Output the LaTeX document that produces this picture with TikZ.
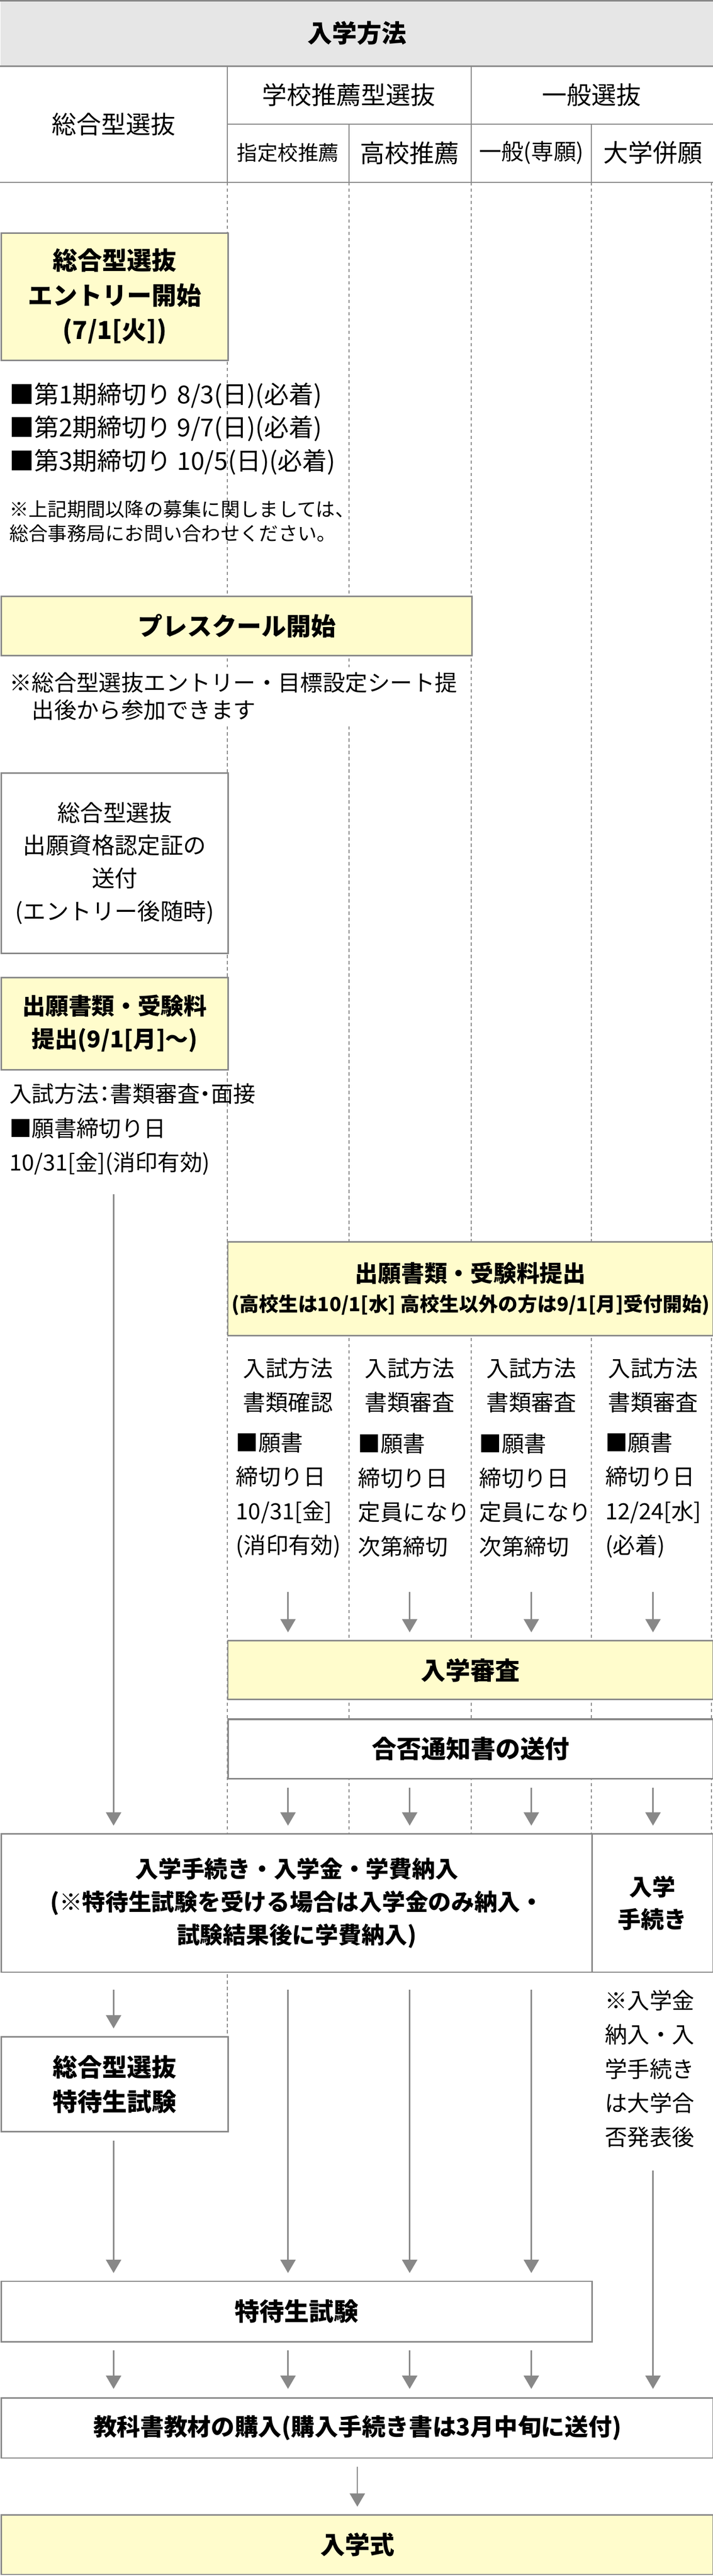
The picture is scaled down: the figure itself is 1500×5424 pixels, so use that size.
\documentclass[tikz,border=0pt]{standalone}
\usepackage{fontspec}
\setmainfont{Noto Sans CJK JP}
\usepackage{tikz}
\usetikzlibrary{arrows.meta}

\definecolor{linegray}{HTML}{888888}
\definecolor{paleyellow}{HTML}{FFFCCC}
\definecolor{headgray}{HTML}{E6E6E6}

% one layout pixel = 0.01cm
\newcommand{\fhead}{\fontsize{14.8pt}{20.5pt}\selectfont}
\newcommand{\fcell}{\fontsize{12.2pt}{15pt}\selectfont}
\newcommand{\ftitle}{\fontsize{14.8pt}{20.8pt}\selectfont\bfseries}
\newcommand{\fsub}{\fontsize{13.8pt}{19.7pt}\selectfont\bfseries}
\newcommand{\fdue}{\fontsize{14.8pt}{19.9pt}\selectfont}
\newcommand{\fbody}{\fontsize{13.7pt}{19.7pt}\selectfont}
\newcommand{\fcol}{\fontsize{13.4pt}{20.5pt}\selectfont}
\newcommand{\fhint}{\fontsize{13.4pt}{16.5pt}\selectfont}
\newcommand{\fnote}{\fontsize{11.5pt}{14.5pt}\selectfont}
% tight punctuation
\newcommand{\tdot}{\kern-0.25em・\kern-0.25em}
\newcommand{\tcolon}{\kern-0.25em：\kern-0.25em}

\begin{document}
\begin{tikzpicture}[x=0.01cm, y=-0.01cm,
  gline/.style={draw=linegray, line width=0.85pt},
  guide/.style={draw=linegray, line width=0.6pt, dash pattern=on 2pt off 1.7pt},
  stage/.style={draw=linegray, line width=0.85pt, anchor=north west, align=center, inner sep=0pt},
  hot/.style={stage, fill=paleyellow},
  plain/.style={stage, fill=white},
  memo/.style={anchor=west, align=left, inner sep=0pt},
  flow/.style={draw=linegray, line width=0.8pt, -{Triangle[length=2.8mm,width=3.2mm]},
    shorten <=0.17cm, shorten >=0.16cm}]

\useasboundingbox (0,0) rectangle (1500,5424);

% header table
\node[fill=headgray, anchor=north west, inner sep=0pt, minimum width=15cm, minimum height=1.39cm,
  font=\ftitle] (head) at (0,0) {入学方法};
\draw[gline] (0,2) -- (1500,2);
\draw[gline] (0,139) -- (1500,139);
\draw[gline] (0,384) -- (1500,384);
\draw[gline, line width=0.6pt] (478,261) -- (1500,261);
\draw[gline, line width=0.6pt] (478,139) -- (478,384) (991,139) -- (991,384)
  (734,261) -- (734,384) (1244,261) -- (1244,384);

\node[font=\fhead] (sogo) at (239,262) {総合型選抜};
\node[font=\fhead] (school) at (734,200) {学校推薦型選抜};
\node[font=\fhead] (general) at (1245,200) {一般選抜};
\node[font=\fcell] (shitei) at (606,322) {指定校推薦};
\node[font=\fhead] (koko) at (862,322) {高校推薦};
\node[font=\fcol] (senga) at (1118,322) {一般(専願)};
\node[font=\fhead] (heigan) at (1374,322) {大学併願};

% column guides
\draw[guide] (478,384) -- (478,4287);
\draw[guide] (734,384) -- (734,3860);
\draw[guide] (991,384) -- (991,3860);
\draw[guide] (1244,384) -- (1244,3860);
\draw[guide] (1497,384) -- (1497,3860);

% 総合型選抜
\node[hot, minimum width=4.765cm, minimum height=2.68cm, font=\ftitle] (entry) at (1.5,489)
  {総合型選抜\\エントリー開始\\(7/1[火])};
\node[memo, font=\fdue] (due) at (19,903)
  {■第1期締切り 8/3(日)(必着)\\■第2期締切り 9/7(日)(必着)\\■第3期締切り 10/5(日)(必着)};
\node[memo, font=\fnote] (later) at (19,1098)
  {※上記期間以降の募集に関しましては、\\総合事務局にお問い合わせください。};

\node[hot, minimum width=9.895cm, minimum height=1.25cm, font=\ftitle] (pre) at (1.5,1254) {プレスクール開始};
\node[memo, fill=white, inner xsep=0.19cm, inner ysep=0.1cm, font=\fhint] (prenote) at (0,1466)
  {※総合型選抜エントリー・目標設定シート提\\\hphantom{※}出後から参加できます};

\node[plain, minimum width=4.765cm, minimum height=3.8cm, font=\fbody] (cert) at (1.5,1626)
  {総合型選抜\\出願資格認定証の\\送付\\(エントリー後随時)};
\node[hot, minimum width=4.765cm, minimum height=1.94cm, font=\fsub] (apply) at (1.5,2057)
  {出願書類・受験料\\提出(9/1[月]〜)};
\node[memo, font=\fcol] (exam) at (19,2378)
  {入試方法\tcolon 書類審査\tdot 面接\\■願書締切り日\\10/31[金](消印有効)};

% 学校推薦型選抜・一般選抜
\node[hot, minimum width=10.205cm, minimum height=1.98cm, font=\fontsize{11.7pt}{17.6pt}\selectfont\bfseries]
  (apply2) at (478,2613)
  {{\fsub 出願書類・受験料提出}\\(高校生は10/1[水] 高校生以外の方は9/1[月]受付開始)};

\node[align=center, font=\fcol] (m1) at (606,2917) {入試方法\\書類確認};
\node[align=center, font=\fcol] (m2) at (862,2917) {入試方法\\書類審査};
\node[align=center, font=\fcol] (m3) at (1118,2917) {入試方法\\書類審査};
\node[align=center, font=\fcol] (m4) at (1374,2917) {入試方法\\書類審査};
\node[memo, font=\fcol] (d1) at (496,3148) {■願書\\締切り日\\10/31[金]\\(消印有効)};
\node[memo, font=\fcol] (d2) at (753,3148) {■願書\\締切り日\\定員になり\\次第締切};
\node[memo, font=\fcol] (d3) at (1008,3148) {■願書\\締切り日\\定員になり\\次第締切};
\node[memo, font=\fcol] (d4) at (1273,3148) {■願書\\締切り日\\12/24[水]\\(必着)};

\node[hot, minimum width=10.205cm, minimum height=1.24cm, font=\ftitle] (review) at (478,3453) {入学審査};
\node[plain, line width=1.1pt, minimum width=10.205cm, minimum height=1.25cm, font=\ftitle] (result) at (478,3618)
  {合否通知書の送付};

% 入学手続き以降
\node[plain, minimum width=12.425cm, minimum height=2.91cm, font=\fsub] (proc) at (1.5,3860)
  {入学手続き・入学金・学費納入\\(※特待生試験を受ける場合は入学金のみ納入・\\試験結果後に学費納入)};
\node[plain, minimum width=2.545cm, minimum height=2.91cm, font=\fsub] (proc2) at (1244,3860)
  {入学\\手続き};
\node[memo, font=\fcol] (paynote) at (1272,4356)
  {※入学金\\納入・入\\学手続き\\は大学合\\否発表後};

\node[plain, minimum width=4.765cm, minimum height=2cm, font=\ftitle] (tok1) at (1.5,4287)
  {総合型選抜\\特待生試験};
\node[plain, minimum width=12.425cm, minimum height=1.27cm, font=\ftitle] (tok2) at (1.5,4802) {特待生試験};
\node[plain, minimum width=14.97cm, minimum height=1.26cm, font=\fontsize{14.1pt}{17pt}\selectfont\bfseries]
  (book) at (1.5,5048) {教科書教材の購入(購入手続き書は3月中旬に送付)};
\node[hot, minimum width=14.97cm, minimum height=1.25cm, font=\ftitle] (ceremony) at (1.5,5294) {入学式};

% arrows
\coordinate (t0) at (239,2514);
\draw[flow, shorten <=0pt] (t0) -- (t0 |- proc.north);
\coordinate (r1) at (606,3352);
\coordinate (r2) at (862,3352);
\coordinate (r3) at (1118,3352);
\coordinate (r4) at (1374,3352);
\draw[flow, shorten <=0pt] (r1) -- (r1 |- review.north);
\draw[flow, shorten <=0pt] (r2) -- (r2 |- review.north);
\draw[flow, shorten <=0pt] (r3) -- (r3 |- review.north);
\draw[flow, shorten <=0pt] (r4) -- (r4 |- review.north);
\draw[flow] (shitei |- result.south) -- (shitei |- proc.north);
\draw[flow] (koko |- result.south) -- (koko |- proc.north);
\draw[flow] (senga |- result.south) -- (senga |- proc.north);
\draw[flow] (heigan |- result.south) -- (heigan |- proc2.north);
\draw[flow, shorten <=0.35cm] (sogo |- proc.south) -- (sogo |- tok1.north);
\draw[flow, shorten <=0.35cm] (shitei |- proc.south) -- (shitei |- tok2.north);
\draw[flow, shorten <=0.35cm] (koko |- proc.south) -- (koko |- tok2.north);
\draw[flow, shorten <=0.35cm] (senga |- proc.south) -- (senga |- tok2.north);
\draw[flow] (sogo |- tok1.south) -- (sogo |- tok2.north);
\coordinate (h0) at (1374,4570);
\draw[flow, shorten <=0pt, shorten >=0.18cm] (h0) -- (h0 |- book.north);
\draw[flow, shorten >=0.18cm] (sogo |- tok2.south) -- (sogo |- book.north);
\draw[flow, shorten >=0.18cm] (shitei |- tok2.south) -- (shitei |- book.north);
\draw[flow, shorten >=0.18cm] (koko |- tok2.south) -- (koko |- book.north);
\draw[flow, shorten >=0.18cm] (senga |- tok2.south) -- (senga |- book.north);
\draw[flow] (book.south) -- (ceremony.north);

\end{tikzpicture}
\end{document}
